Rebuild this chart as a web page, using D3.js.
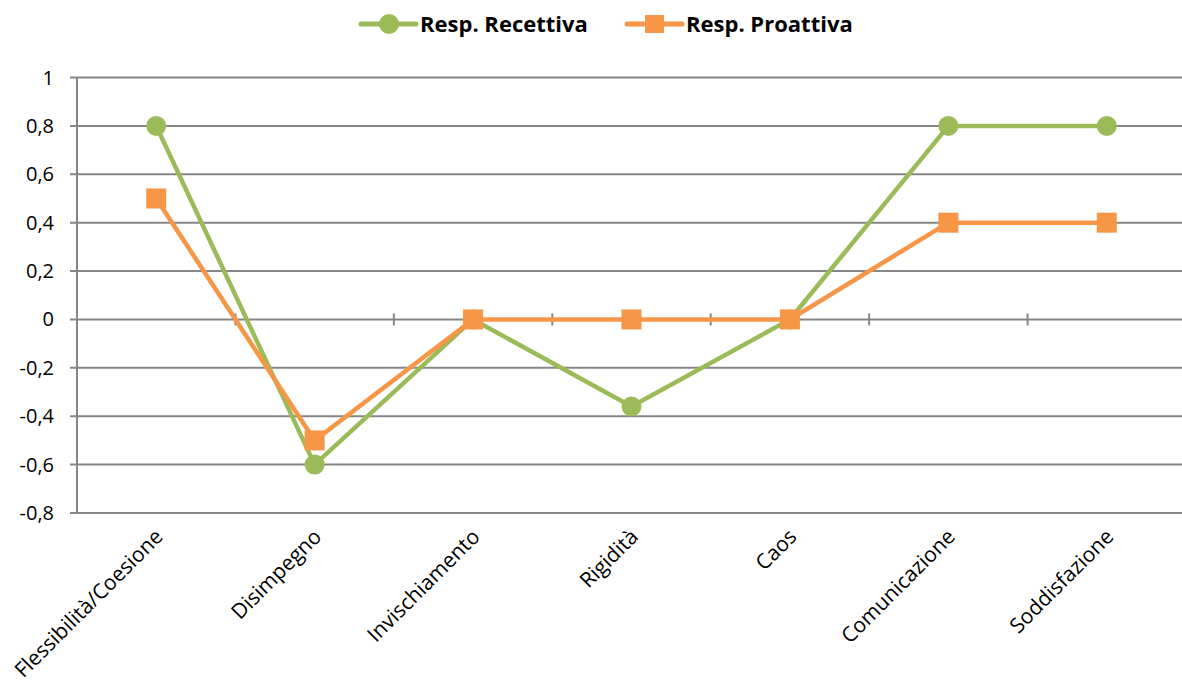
<!DOCTYPE html>
<html lang="it">
  <head>
    <meta charset="UTF-8" />
    <title>Resp. Recettiva / Proattiva</title>
    <script src="https://d3js.org/d3.v7.min.js"></script>
    <style>
      body { margin: 0; background: #fff; }
      text { font-family: "Open Sans", sans-serif; fill: #000; }
      .grid line { stroke: #868686; stroke-width: 2; }
    </style>
  </head>
  <body>
    <svg width="1182" height="681"></svg>
    <script>
      var categories = ["Flessibilità/Coesione", "Disimpegno", "Invischiamento", "Rigidità", "Caos", "Comunicazione", "Soddisfazione"];
      var recettiva = [0.8, -0.6, 0, -0.36, 0, 0.8, 0.8];
      var proattiva = [0.5, -0.5, 0, 0, 0, 0.4, 0.4];
      var yTicks = [1, 0.8, 0.6, 0.4, 0.2, 0, -0.2, -0.4, -0.6, -0.8];

      var green = "#9BBB59", orange = "#F79646";
      var svg = d3.select("svg");
      var plotLeft = 77, plotRight = 1186, plotTop = 77.5, plotBottom = 513;

      var x = d3.scaleBand().domain(categories).range([plotLeft, plotRight]);
      var y = d3.scaleLinear().domain([-0.8, 1]).range([plotBottom, plotTop]);
      var fmt = function (d) { return String(d).replace(".", ","); };
      var cx = function (i) { return x(categories[i]) + x.bandwidth() / 2; };

      // horizontal gridlines
      svg.append("g").attr("class", "grid")
        .selectAll("line").data(yTicks).enter().append("line")
        .attr("x1", plotLeft - 7).attr("x2", plotRight)
        .attr("y1", function (d) { return y(d); })
        .attr("y2", function (d) { return y(d); });

      // y axis line
      svg.append("line")
        .attr("x1", plotLeft).attr("x2", plotLeft)
        .attr("y1", plotTop).attr("y2", plotBottom)
        .attr("stroke", "#868686").attr("stroke-width", 2);

      svg.append("g").selectAll("text").data(yTicks).enter().append("text")
        .attr("x", plotLeft - 23)
        .attr("y", function (d) { return y(d); })
        .attr("dy", "0.35em")
        .attr("text-anchor", "end")
        .style("font-size", "20px")
        .text(fmt);

      // category ticks on the zero line
      svg.append("g").selectAll("line").data(categories.slice(1)).enter().append("line")
        .attr("x1", function (d) { return x(d); })
        .attr("x2", function (d) { return x(d); })
        .attr("y1", y(0) - 6).attr("y2", y(0) + 6)
        .attr("stroke", "#868686").attr("stroke-width", 2);

      // category labels
      svg.append("g").selectAll("text").data(categories).enter().append("text")
        .attr("transform", function (d, i) {
          return "translate(" + (cx(i) + 8) + "," + 538 + ") rotate(-45)";
        })
        .attr("text-anchor", "end")
        .style("font-size", "21px")
        .text(function (d) { return d; });

      var line = d3.line()
        .x(function (d, i) { return cx(i); })
        .y(function (d) { return y(d); });

      svg.append("path").datum(recettiva)
        .attr("d", line).attr("fill", "none")
        .attr("stroke", green).attr("stroke-width", 4.5);

      svg.append("g").selectAll("circle").data(recettiva).enter().append("circle")
        .attr("cx", function (d, i) { return cx(i); })
        .attr("cy", function (d) { return y(d); })
        .attr("r", 10).attr("fill", green);

      svg.append("path").datum(proattiva)
        .attr("d", line).attr("fill", "none")
        .attr("stroke", orange).attr("stroke-width", 4.5);

      svg.append("g").selectAll("rect").data(proattiva).enter().append("rect")
        .attr("x", function (d, i) { return cx(i) - 10; })
        .attr("y", function (d) { return y(d) - 10; })
        .attr("width", 20).attr("height", 20).attr("fill", orange);

      // legend
      var legend = [
        { name: "Resp. Recettiva", color: green, shape: "circle", x: 361 },
        { name: "Resp. Proattiva", color: orange, shape: "rect", x: 627 }
      ];
      var lg = svg.append("g").selectAll("g").data(legend).enter().append("g")
        .attr("transform", function (d) { return "translate(" + d.x + ",24)"; });
      lg.append("line").attr("x1", 0).attr("x2", 55)
        .attr("stroke", function (d) { return d.color; })
        .attr("stroke-width", 5).attr("stroke-linecap", "round");
      lg.filter(function (d) { return d.shape === "circle"; }).append("circle")
        .attr("cx", 28).attr("r", 10).attr("fill", function (d) { return d.color; });
      lg.filter(function (d) { return d.shape === "rect"; }).append("rect")
        .attr("x", 18).attr("y", -9).attr("width", 19).attr("height", 18)
        .attr("fill", function (d) { return d.color; });
      lg.append("text").attr("x", 59).attr("dy", "0.35em")
        .style("font-size", "22px").style("font-weight", "bold")
        .text(function (d) { return d.name; });
    </script>
  </body>
</html>
